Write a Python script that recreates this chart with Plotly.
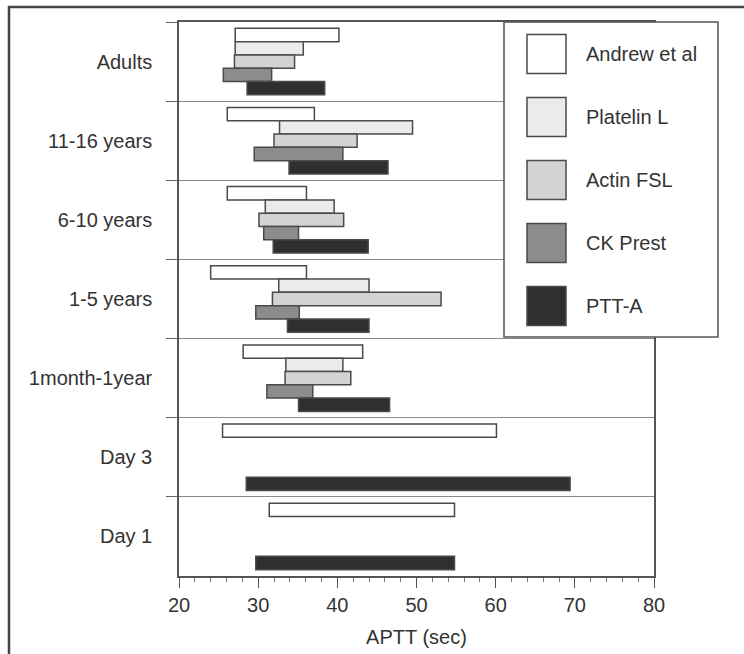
import plotly.graph_objects as go

# Age groups (top to bottom) and APTT reference ranges (low, high) in seconds
groups = ["Adults", "11-16 years", "6-10 years", "1-5 years", "1month-1year", "Day 3", "Day 1"]

series_names = ["Andrew et al", "Platelin L", "Actin FSL", "CK Prest", "PTT-A"]
series_colors = ["#ffffff", "#ebebeb", "#d3d3d3", "#8c8c8c", "#2f2f2f"]

andrew_low = [27.1, 26.1, 26.1, 24.0, 28.1, 25.5, 31.4]
andrew_high = [40.2, 37.1, 36.1, 36.1, 43.2, 60.1, 54.8]

platelin_low = [27.1, 32.7, 30.9, 32.6, 33.5, None, None]
platelin_high = [35.7, 49.5, 39.6, 44.0, 40.7, None, None]

actin_low = [27.0, 32.0, 30.1, 31.8, 33.4, None, None]
actin_high = [34.6, 42.5, 40.8, 53.1, 41.7, None, None]

ckprest_low = [25.6, 29.5, 30.7, 29.7, 31.1, None, None]
ckprest_high = [31.7, 40.7, 35.1, 35.2, 36.9, None, None]

ptta_low = [28.6, 33.9, 31.9, 33.7, 35.1, 28.5, 29.7]
ptta_high = [38.4, 46.4, 43.9, 44.0, 46.6, 69.4, 54.8]

lows = [andrew_low, platelin_low, actin_low, ckprest_low, ptta_low]
highs = [andrew_high, platelin_high, actin_high, ckprest_high, ptta_high]

x_ticks = [20, 30, 40, 50, 60, 70, 80]

FONT = "Liberation Sans, Arial, sans-serif"
FSIZE = 20
TEXT = "#333333"
EDGE = "#4a4a4a"

fig = go.Figure()
for name, color, lo, hi in zip(series_names, series_colors, lows, highs):
    lengths = [None if (a is None or b is None) else b - a for a, b in zip(lo, hi)]
    fig.add_trace(go.Bar(
        y=groups, x=lengths, base=lo, orientation="h", name=name,
        marker=dict(color=color, line=dict(color=EDGE, width=1.5)),
        showlegend=False,
    ))

# Figure geometry in pixels
W, H = 744, 654
L, R, T, B = 179, 90, 22, 78
pw, ph = W - L - R, H - T - B


def px_x(x):
    return (x - L) / pw


def px_y(y):
    return (H - B - y) / ph


shapes = []
annotations = []

# Outer frame around the figure
shapes.append(dict(type="rect", xref="paper", yref="paper",
                   x0=px_x(9), x1=px_x(760), y0=px_y(670), y1=px_y(7),
                   line=dict(color="#444444", width=2.5), fillcolor="rgba(0,0,0,0)",
                   layer="above"))

# Legend box with large swatches
box_x0, box_x1, box_y0, box_y1 = 504, 718, 22, 337
shapes.append(dict(type="rect", xref="paper", yref="paper",
                   x0=px_x(box_x0), x1=px_x(box_x1), y0=px_y(box_y1), y1=px_y(box_y0),
                   line=dict(color="#555555", width=1.5), fillcolor="white", layer="above"))
first_center, spacing, sw = 54, 63, 39
for i, (name, color) in enumerate(zip(series_names, series_colors)):
    cy = first_center + i * spacing
    shapes.append(dict(type="rect", xref="paper", yref="paper",
                       x0=px_x(527), x1=px_x(527 + sw),
                       y0=px_y(cy + sw / 2), y1=px_y(cy - sw / 2),
                       line=dict(color=EDGE, width=1.5), fillcolor=color, layer="above"))
    annotations.append(dict(xref="paper", yref="paper", x=px_x(584), y=px_y(cy),
                            text=name, showarrow=False, xanchor="left", yanchor="middle",
                            font=dict(family=FONT, size=FSIZE, color=TEXT)))

fig.update_layout(
    width=W, height=H,
    margin=dict(l=L, r=R, t=T, b=B, autoexpand=False),
    paper_bgcolor="white", plot_bgcolor="white",
    barmode="group", bargap=0.16, bargroupgap=0,
    font=dict(family=FONT, size=FSIZE, color=TEXT),
    shapes=shapes, annotations=annotations,
    showlegend=False,
)

fig.update_xaxes(
    range=[20, 80], tickvals=x_ticks, ticktext=[str(v) for v in x_ticks],
    ticks="outside", ticklen=10, tickwidth=1.2, tickcolor="#555555",
    minor=dict(dtick=2, tick0=20, ticks="outside", ticklen=4, tickcolor="#777777", tickwidth=1),
    showline=True, linecolor="#555555", linewidth=1.5, mirror=True,
    showgrid=False, zeroline=False,
    title=dict(text="APTT (sec)", standoff=15, font=dict(family=FONT, size=FSIZE, color=TEXT)),
    automargin=False,
)

fig.update_yaxes(
    type="category", categoryorder="array", categoryarray=groups, autorange="reversed",
    tickson="boundaries", ticks="outside", ticklen=11, tickwidth=1.2, tickcolor="#666666",
    showgrid=True, gridcolor="#8a8a8a", gridwidth=1.2,
    showline=True, linecolor="#555555", linewidth=1.5, mirror=True,
    ticklabelstandoff=21, automargin=False,
)

fig.write_html("out.html")
